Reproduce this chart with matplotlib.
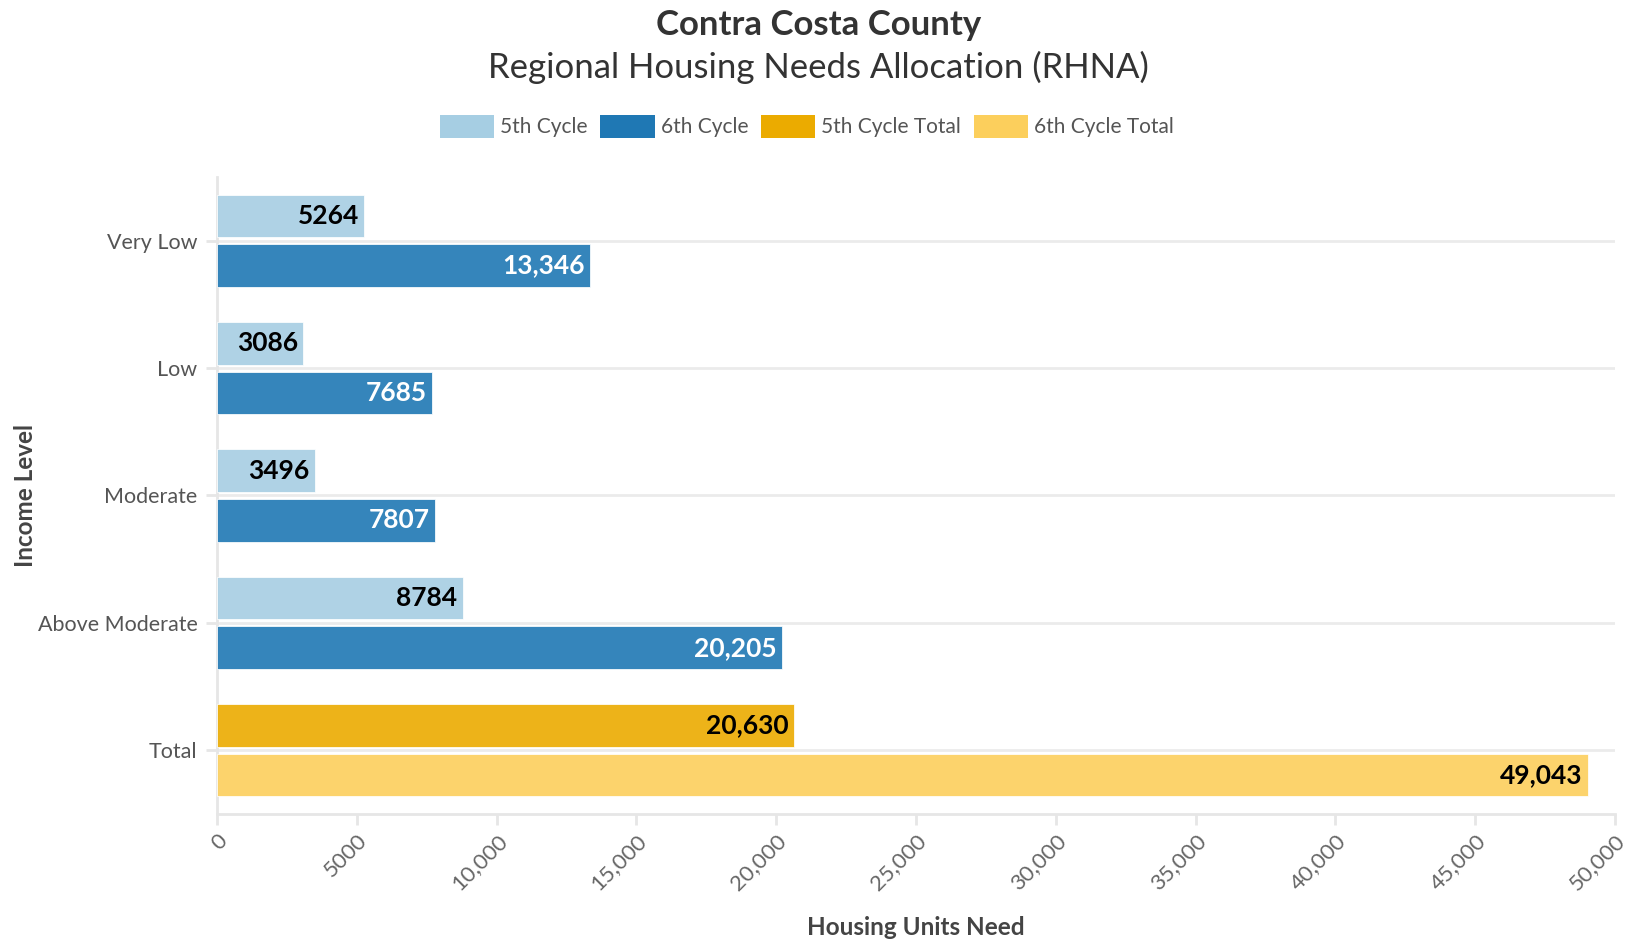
import matplotlib
matplotlib.use("Agg")
import matplotlib.pyplot as plt
from matplotlib.patches import Patch
from matplotlib.ticker import FuncFormatter

plt.rcParams["font.family"] = ["Lato", "DejaVu Sans"]

# -------------------------
# Data
# -------------------------
income_levels = ["Very Low", "Low", "Moderate", "Above Moderate", "Total"]
cycle5 = [5264, 3086, 3496, 8784]
cycle6 = [13346, 7685, 7807, 20205]
cycle5_total = 20630
cycle6_total = 49043
x_ticks = [0, 5000, 10000, 15000, 20000, 25000, 30000, 35000, 40000, 45000, 50000]

series_names = ["5th Cycle", "6th Cycle", "5th Cycle Total", "6th Cycle Total"]
series_colors = ["#a6cee3", "#1f78b4", "#ebab00", "#fccf5c"]
label_colors = ["black", "white", "black", "black"]


def fmt_num(v, pos=None):
    v = int(round(v))
    return f"{v:,}" if abs(v) >= 10000 else str(v)


fig = plt.figure(figsize=(16.37, 9.43), dpi=100)
ax = fig.add_axes([0.1326, 0.1368, 0.854, 0.6755])

bar_h = 0.335
off = 0.195
n = len(cycle5)
ypos = list(range(len(income_levels)))

groups = [
    (ypos[:n], cycle5, -off, 0),
    (ypos[:n], cycle6, off, 1),
    ([ypos[n]], [cycle5_total], -off, 2),
    ([ypos[n]], [cycle6_total], off, 3),
]

for ys, vals, shift, si in groups:
    yy = [y + shift for y in ys]
    bars = ax.barh(yy, vals, height=bar_h, color=series_colors[si], alpha=0.9,
                   edgecolor="white", linewidth=0.6, zorder=3)
    for b, v in zip(bars, vals):
        ax.annotate(fmt_num(v), xy=(b.get_width(), b.get_y() + b.get_height() / 2),
                    xytext=(-4, 0), textcoords="offset points", ha="right", va="center",
                    fontsize=19, fontweight="bold", color=label_colors[si], zorder=4)

ax.set_ylim(len(income_levels) - 0.5, -0.5)
ax.set_xlim(0, 50000)
ax.set_yticks(ypos)
ax.set_yticklabels(income_levels)
ax.set_xticks(x_ticks)
ax.xaxis.set_major_formatter(FuncFormatter(fmt_num))

ax.grid(axis="y", color="#ebebeb", linewidth=2, zorder=0)
ax.grid(axis="x", visible=False)
for s in ["top", "right"]:
    ax.spines[s].set_visible(False)
for s in ["left", "bottom"]:
    ax.spines[s].set_color("#e6e6e6")
    ax.spines[s].set_linewidth(2)

ax.tick_params(axis="y", length=8, width=2, color="#e6e6e6", labelsize=15.5,
               labelcolor="#555555", pad=6)
ax.tick_params(axis="x", length=8, width=2, color="#e6e6e6", labelsize=16,
               labelcolor="#666666", pad=4)
for lbl in ax.get_xticklabels():
    lbl.set_rotation(45)
    lbl.set_ha("right")
    lbl.set_va("top")
    lbl.set_rotation_mode("anchor")

ax.set_xlabel("Housing Units Need", fontsize=17.5, fontweight="bold", color="#444444")
ax.xaxis.set_label_coords(0.5, -0.16)
ax.set_ylabel("Income Level", fontsize=17.5, fontweight="bold", color="#444444")
ax.yaxis.set_label_coords(-0.129, 0.5)

fig.text(0.5, 0.974, "Contra Costa County", ha="center", va="center",
         fontsize=25, fontweight="bold", color="#333333")
fig.text(0.5, 0.929, "Regional Housing Needs Allocation (RHNA)", ha="center",
         va="center", fontsize=25, color="#333333")

handles = [Patch(facecolor=c, edgecolor="none") for c in series_colors]
leg = fig.legend(handles, series_names, loc="center", bbox_to_anchor=(0.493, 0.866),
                 ncol=4, frameon=False, fontsize=15, handlelength=2.6, handleheight=1.3,
                 handletextpad=0.3, columnspacing=0.6)
for t in leg.get_texts():
    t.set_color("#555555")

fig.savefig("out.png", dpi=100)
